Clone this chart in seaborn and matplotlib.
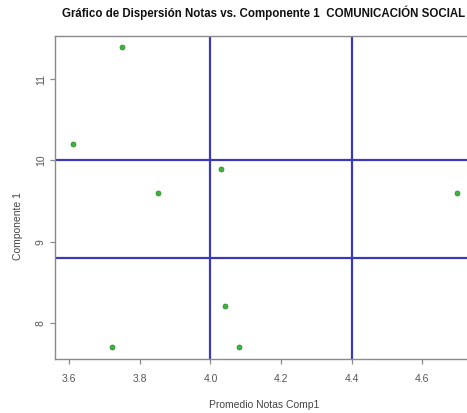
import matplotlib
matplotlib.use("Agg")
import matplotlib.pyplot as plt
import seaborn as sns
import pandas as pd

promedio = [3.61, 3.75, 3.85, 4.03, 4.04, 4.08, 3.72, 4.70]
componente = [10.2, 11.4, 9.6, 9.9, 8.2, 7.7, 7.7, 9.6]
x_ticks = [3.6, 3.8, 4.0, 4.2, 4.4, 4.6]
y_ticks = [8, 9, 10, 11]
vlines = [4.0, 4.4]
hlines = [10.0, 8.8]

sns.set_style("white")
plt.rcParams['font.family'] = ['Liberation Sans', 'DejaVu Sans']

df = pd.DataFrame({"x": promedio, "y": componente})

fig = plt.figure(figsize=(4.67, 4.13), dpi=100)
W, H = 467, 413
left, right, top, bottom = 55, 473, 35.7, 359.3
aw, ah = right - left, bottom - top
ax = fig.add_axes([left / W, 1 - bottom / H, aw / W, ah / H])

for v in vlines:
    ax.axvline(v, color="#3a3ab8", lw=1.6, zorder=1)
for h in hlines:
    ax.axhline(h, color="#3a3ab8", lw=1.6, zorder=1)

sns.scatterplot(data=df, x="x", y="y", ax=ax, color="#3cb33c", s=13,
                edgecolor="#2a8a2a", linewidth=0.5, zorder=3)

ax.set_xlim(3.5595, 4.744)
ax.set_ylim(7.549, 11.538)
ax.set_xticks(x_ticks)
ax.set_xticklabels([f"{t:.1f}" for t in x_ticks])
ax.set_yticks(y_ticks)
ax.set_yticklabels([str(t) for t in y_ticks], rotation=90, va="center")

for s in ax.spines.values():
    s.set_color("#8a8a8a")
    s.set_linewidth(1.0)
ax.tick_params(axis="both", bottom=True, left=True, direction="out", length=3.6,
               width=0.9, color="#8a8a8a", labelcolor="#555555", labelsize=7.5)
ax.tick_params(axis="x", pad=7)
ax.tick_params(axis="y", pad=3)

ax.set_xlabel("Promedio Notas Comp1", color="#444444", fontsize=7.5)
ax.set_ylabel("Componente 1", color="#444444", fontsize=7.5)
ax.xaxis.label.set_va("center")
ax.yaxis.label.set_va("center")
ax.xaxis.set_label_coords((264 - left) / aw, -(405.5 - bottom) / ah)
ax.yaxis.set_label_coords(-(left - 18) / aw, (bottom - 226) / ah)

fig.text(264 / W, 1 - 13 / H, "Gráfico de Dispersión Notas vs. Componente 1  COMUNICACIÓN SOCIAL",
         ha="center", va="center", fontsize=8.3, fontweight="bold", color="#111111")

fig.savefig("out.png", dpi=100)
